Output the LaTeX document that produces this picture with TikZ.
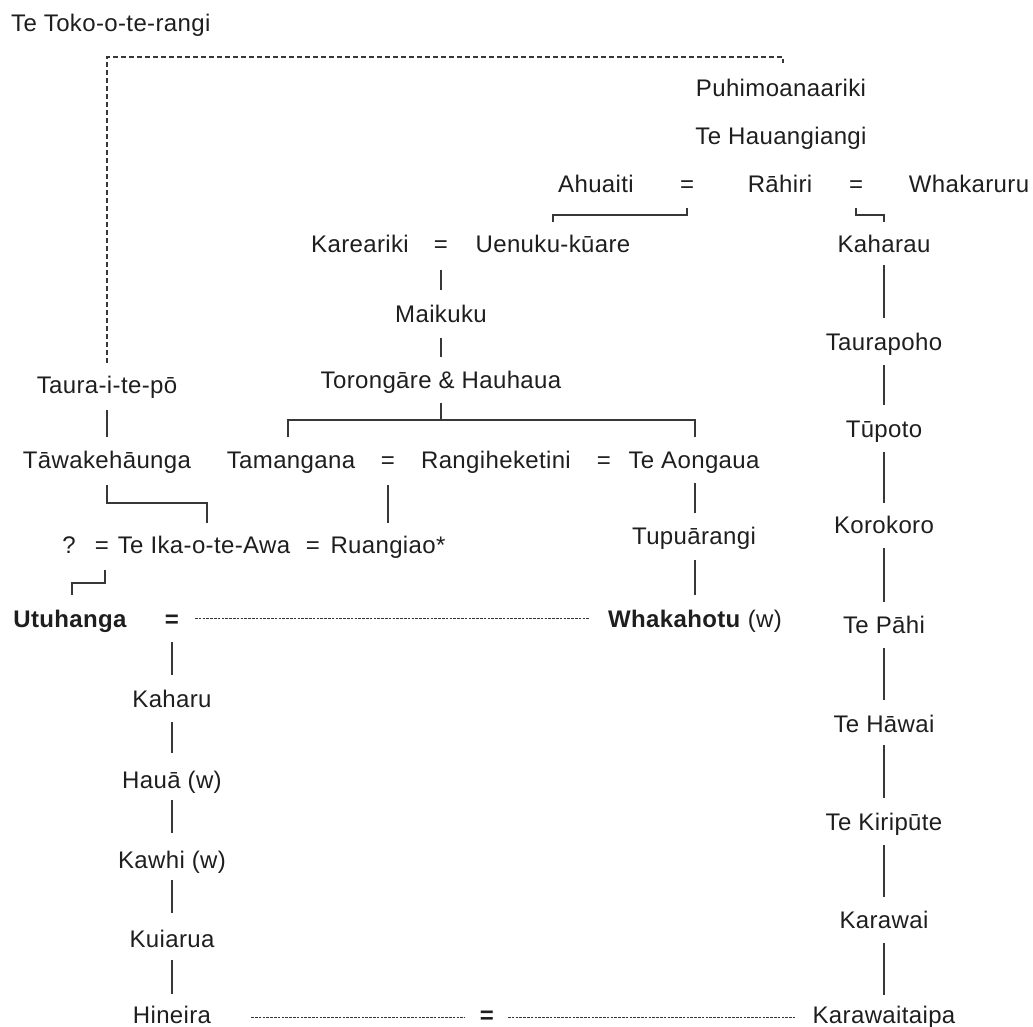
\documentclass[tikz,border=0pt]{standalone}
\usepackage{fontspec}
\setmainfont{Liberation Sans}[LetterSpace=1.5]
\usetikzlibrary{calc}
\definecolor{ink}{RGB}{30,30,30}
\definecolor{rulegray}{RGB}{55,55,55}
\begin{document}
\begin{tikzpicture}[x=1pt,y=-1pt,
  every node/.style={inner sep=0pt, anchor=base, text=ink,
    font=\fontsize{24}{28}\selectfont},
  strong/.style={font=\fontsize{24}{28}\selectfont\bfseries},
  link/.style={draw=rulegray, line width=1.3pt},
  longdash/.style={draw=rulegray, line width=1.1pt, dash pattern=on 5pt off 3pt},
  finedash/.style={draw=rulegray, line width=0.9pt, dash pattern=on 2.6pt off 1.2pt}]
\useasboundingbox (0,0) rectangle (1033,1027);

% ---- names ----
\node[anchor=base west] (toko) at (11,32) {Te Toko-o-te-rangi};
\node (puhi) at (781,97) {Puhimoanaariki};
\node (hau) at (781,145) {Te Hauangiangi};

\node (ahuaiti) at (596,193) {Ahuaiti};
\node (eqA) at (687,193) {=};
\node (rahiri) at (780,193) {Rāhiri};
\node (eqB) at (856,193) {=};
\node (whakaruru) at (969,193) {Whakaruru};

\node (kareariki) at (360,252) {Kareariki};
\node (eqK) at (441,252) {=};
\node (uenuku) at (553,252) {Uenuku-kūare};
\node (maikuku) at (441,322) {Maikuku};
\node (toron) at (441,388) {Torongāre \& Hauhaua};

\node (taura) at (107,393) {Taura-i-te-pō};
\node (tawake) at (107,468) {Tāwakehāunga};
\node (tamangana) at (291,468) {Tamangana};
\node (eqT) at (388,468) {=};
\node (rangi) at (496,468) {Rangiheketini};
\node (eqR) at (604,468) {=};
\node (aongaua) at (694,468) {Te Aongaua};

\node (q) at (69,553) {?};
\node (eqQ) at (102,553) {=};
\node (ika) at (204,553) {Te Ika-o-te-Awa};
\node (eqI) at (313,553) {=};
\node (ruangiao) at (388,553) {Ruangiao*};
\node (tupuarangi) at (694,544) {Tupuārangi};

\node[strong] (utuhanga) at (70,627) {Utuhanga};
\node[strong] (eqU) at (172,627) {=};
\node (whakahotu) at (695,627) {\textbf{Whakahotu} (w)};

\node (kaharu) at (172,707) {Kaharu};
\node (haua) at (172,788) {Hauā (w)};
\node (kawhi) at (172,868) {Kawhi (w)};
\node (kuiarua) at (172,947) {Kuiarua};
\node (hineira) at (172,1023) {Hineira};
\node[strong] (eqH) at (487,1023) {=};

\node (kaharau) at (884,252) {Kaharau};
\node (taurapoho) at (884,350) {Taurapoho};
\node (tupoto) at (884,437) {Tūpoto};
\node (korokoro) at (884,533) {Korokoro};
\node (tepahi) at (884,633) {Te Pāhi};
\node (tehawai) at (884,732) {Te Hāwai};
\node (kiripute) at (884,830) {Te Kiripūte};
\node (karawai) at (884,928) {Karawai};
\node (karawaitaipa) at (884,1023) {Karawaitaipa};

% ---- dashed link from Taura-i-te-pō up to Puhimoanaariki ----
\draw[longdash] ($(taura.base)+(0,-30)$) -- ($(taura.base)+(0,-336)$)
  -| ($(puhi.base)+(2,-34)$);

% ---- marriage brackets in the Rāhiri row ----
\draw[link] ($(eqA.base)+(0,15)$) -- ++(0,7) -| ($(uenuku.base)+(0,-30)$);
\draw[link] ($(eqB.base)+(0,15)$) -- ++(0,7) -| ($(kaharau.base)+(0,-30)$);

% ---- central line ----
\draw[link] ($(eqK.base)+(0,18)$) -- ($(maikuku.base)+(0,-32)$);
\draw[link] ($(maikuku.base)+(0,16)$) -- ($(toron.base)+(0,-31)$);
\draw[link] ($(toron.base)+(0,15)$) -- ++(0,17);
\draw[link] ($(tamangana.base)+(-3,-31)$) |- ($(aongaua.base)+(1,-48)$)
  -- ($(aongaua.base)+(1,-31)$);
\draw[link] ($(eqT.base)+(0,17)$) -- ($(ruangiao.base)+(0,-30)$);
\draw[link] ($(aongaua.base)+(1,15)$) -- ($(tupuarangi.base)+(1,-31)$);
\draw[link] ($(tupuarangi.base)+(1,16)$) -- ($(whakahotu.base)+(0,-32)$);

% ---- left line ----
\draw[link] ($(taura.base)+(0,17)$) -- ($(tawake.base)+(0,-31)$);
\draw[link] ($(tawake.base)+(0,17)$) |- ($(ika.base)+(3,-50)$)
  -- ($(ika.base)+(3,-30)$);
\draw[link] ($(eqQ.base)+(3,17)$) -- ++(0,13) -| ($(utuhanga.base)+(2,-32)$);
\draw[finedash] ($(eqU.base)+(23,-9)$) -- ($(whakahotu.base west)+(-18,-9)$);

\draw[link] ($(eqU.base)+(0,15)$) -- ($(kaharu.base)+(0,-32)$);
\draw[link] ($(kaharu.base)+(0,15)$) -- ($(haua.base)+(0,-35)$);
\draw[link] ($(haua.base)+(0,12)$) -- ($(kawhi.base)+(0,-35)$);
\draw[link] ($(kawhi.base)+(0,12)$) -- ($(kuiarua.base)+(0,-34)$);
\draw[link] ($(kuiarua.base)+(0,13)$) -- ($(hineira.base)+(0,-29)$);

% ---- right line ----
\draw[link] ($(kaharau.base)+(0,13)$) -- ($(taurapoho.base)+(0,-32)$);
\draw[link] ($(taurapoho.base)+(0,15)$) -- ($(tupoto.base)+(0,-32)$);
\draw[link] ($(tupoto.base)+(0,15)$) -- ($(korokoro.base)+(0,-30)$);
\draw[link] ($(korokoro.base)+(0,15)$) -- ($(tepahi.base)+(0,-31)$);
\draw[link] ($(tepahi.base)+(0,15)$) -- ($(tehawai.base)+(0,-32)$);
\draw[link] ($(tehawai.base)+(0,13)$) -- ($(kiripute.base)+(0,-32)$);
\draw[link] ($(kiripute.base)+(0,15)$) -- ($(karawai.base)+(0,-31)$);
\draw[link] ($(karawai.base)+(0,15)$) -- ($(karawaitaipa.base)+(0,-28)$);

% ---- Hineira = Karawaitaipa ----
\draw[finedash] ($(hineira.base east)+(40,-6)$) -- ($(eqH.base)+(-22,-6)$);
\draw[finedash] ($(eqH.base)+(21,-6)$) -- ($(karawaitaipa.base west)+(-17,-6)$);
\end{tikzpicture}
\end{document}
